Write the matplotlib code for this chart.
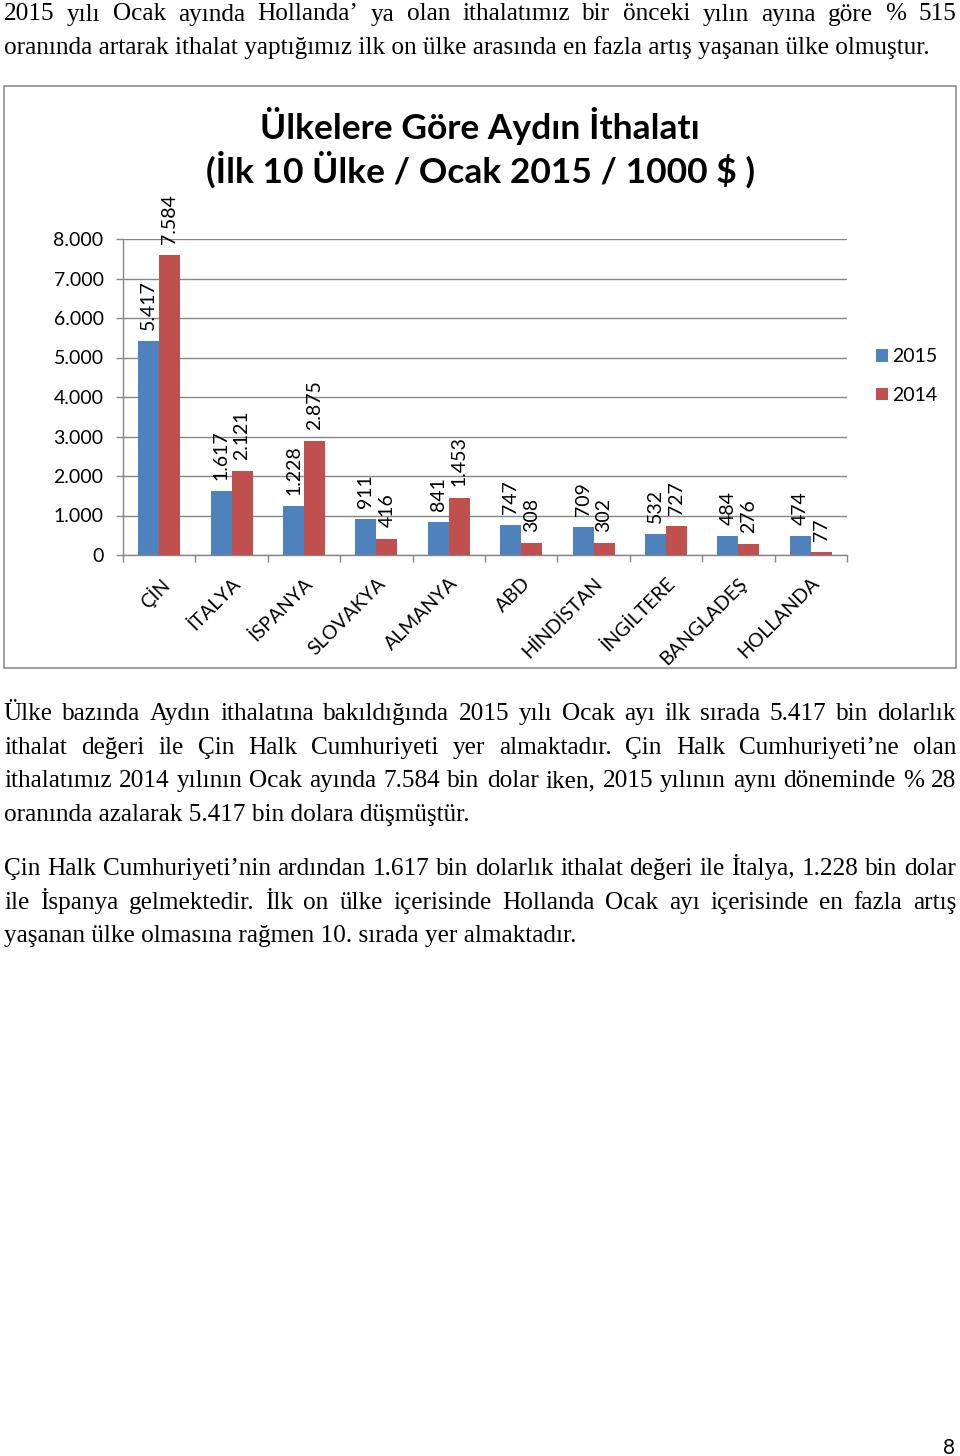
import matplotlib
matplotlib.use('Agg')
import matplotlib.pyplot as plt
import matplotlib.transforms as mtransforms
from matplotlib.patches import Rectangle
import numpy as np

# Grafik verileri (1000 $)
ulkeler = ['ÇİN', 'İTALYA', 'İSPANYA', 'SLOVAKYA', 'ALMANYA', 'ABD', 'HİNDİSTAN',
           'İNGİLTERE', 'BANGLADEŞ', 'HOLLANDA']
deger_2015 = [5417, 1617, 1228, 911, 841, 747, 709, 532, 484, 474]
deger_2014 = [7584, 2121, 2875, 416, 1453, 308, 302, 727, 276, 77]
yillar = ['2015', '2014']
renkler = ['#4F81BD', '#C0504D']
y_tikler = [0, 1000, 2000, 3000, 4000, 5000, 6000, 7000, 8000]
baslik = 'Ülkelere Göre Aydın İthalatı\n(İlk 10 Ülke / Ocak 2015 / 1000 $ )'

# Sayfa metni: (satır, iki yana yasla?)
ust_paragraf = [
    ('2015 yılı Ocak ayında Hollanda’ ya olan ithalatımız bir önceki yılın ayına göre % 515', True),
    ('oranında artarak ithalat yaptığımız ilk on ülke arasında en fazla artış yaşanan ülke olmuştur.', False),
]
alt_paragraf_1 = [
    ('Ülke bazında Aydın ithalatına bakıldığında 2015 yılı Ocak ayı ilk sırada 5.417 bin dolarlık', True),
    ('ithalat değeri ile Çin Halk Cumhuriyeti yer almaktadır. Çin Halk Cumhuriyeti’ne olan', True),
    ('ithalatımız 2014 yılının Ocak ayında 7.584 bin dolar iken, 2015 yılının aynı döneminde % 28', True),
    ('oranında azalarak 5.417 bin dolara düşmüştür.', False),
]
alt_paragraf_2 = [
    ('Çin Halk Cumhuriyeti’nin ardından 1.617 bin dolarlık ithalat değeri ile İtalya, 1.228 bin dolar', True),
    ('ile İspanya gelmektedir. İlk on ülke içerisinde Hollanda Ocak ayı içerisinde en fazla artış', True),
    ('yaşanan ülke olmasına rağmen 10. sırada yer almaktadır.', False),
]

W, H = 960, 1456
serif = 'Liberation Serif'
sans = 'Lato'
metin_boyu = 18.2

fig = plt.figure(figsize=(W / 100, H / 100), dpi=100)
renderer = fig.canvas.get_renderer()


def satir_yaz(metin, y_px, yasla):
    sol, sag = 4, 956
    if not yasla:
        fig.text(sol / W, 1 - y_px / H, metin, fontsize=metin_boyu, family=serif, va='baseline')
        return
    kelimeler = metin.split()
    parcalar = [fig.text(0, 1 - y_px / H, k, fontsize=metin_boyu, family=serif, va='baseline')
                for k in kelimeler]
    genislikler = [p.get_window_extent(renderer).width for p in parcalar]
    bosluk = (sag - sol - sum(genislikler)) / (len(kelimeler) - 1)
    x = sol
    for p, g in zip(parcalar, genislikler):
        p.set_x(x / W)
        x += g + bosluk


for i, (s, j) in enumerate(ust_paragraf):
    satir_yaz(s, 20.5 + i * 33.6, j)
for i, (s, j) in enumerate(alt_paragraf_1):
    satir_yaz(s, 720 + i * 33.6, j)
for i, (s, j) in enumerate(alt_paragraf_2):
    satir_yaz(s, 875 + i * 33.6, j)
fig.text(955 / W, 1 - 1454 / H, '8', fontsize=15, family=sans, ha='right', va='baseline')

# Grafik çerçevesi
fig.patches.append(Rectangle((4 / W, 1 - 668 / H), 952 / W, 582 / H, transform=fig.transFigure,
                             fill=False, edgecolor='#8C8C8C', linewidth=1.2))

# Grafik
ax = fig.add_axes([123 / W, 1 - 555 / H, 724 / W, 316 / H])
x = np.arange(len(ulkeler))
gen = 0.29
cubuk_15 = ax.bar(x - gen / 2, deger_2015, gen, color=renkler[0], label=yillar[0], zorder=3)
cubuk_14 = ax.bar(x + gen / 2, deger_2014, gen, color=renkler[1], label=yillar[1], zorder=3)

for cubuklar, degerler in [(cubuk_15, deger_2015), (cubuk_14, deger_2014)]:
    for c, v in zip(cubuklar, degerler):
        ax.annotate(f'{v:,}'.replace(',', '.'), (c.get_x() + c.get_width() / 2, v),
                    xytext=(0, 8), textcoords='offset points', rotation=90,
                    ha='center', va='bottom', fontsize=14, family=sans)

ax.set_xlim(-0.5, len(ulkeler) - 0.5)
ax.set_ylim(0, 8000)
ax.set_yticks(y_tikler)
ax.set_yticklabels([f'{v:,}'.replace(',', '.') for v in y_tikler], fontsize=14, family=sans)
ax.yaxis.grid(True, color='#868686', linewidth=1.0, zorder=0)
ax.set_xticks(x)
ax.set_xticklabels(ulkeler, rotation=45, ha='right', va='top', rotation_mode='anchor',
                   fontsize=14, family=sans)
kaydir = mtransforms.ScaledTranslation(-9 / 100, 0, fig.dpi_scale_trans)
for etiket in ax.get_xticklabels():
    etiket.set_transform(etiket.get_transform() + kaydir)
ax.set_xticks(np.arange(len(ulkeler) + 1) - 0.5, minor=True)
ax.tick_params(axis='x', which='major', length=0, pad=14)
ax.tick_params(axis='x', which='minor', length=5, color='#868686', width=1.0)
ax.tick_params(axis='y', length=5, color='#868686', width=1.0, pad=9)
for k in ['top', 'right']:
    ax.spines[k].set_visible(False)
for k in ['left', 'bottom']:
    ax.spines[k].set_color('#868686')
    ax.spines[k].set_linewidth(1.0)

ax.legend(loc='center left', bbox_to_anchor=(876 / W, 1 - 376 / H), bbox_transform=fig.transFigure,
          frameon=False, borderpad=0, borderaxespad=0, handlelength=0.6, handleheight=0.6,
          handletextpad=0.25, labelspacing=1.1, prop={'family': sans, 'size': 14})

fig.text(0.5, 1 - 148 / H, baslik, ha='center', va='center', fontsize=25.5, fontweight='bold',
         family=sans, linespacing=1.2)

fig.savefig('out.png', dpi=100)
